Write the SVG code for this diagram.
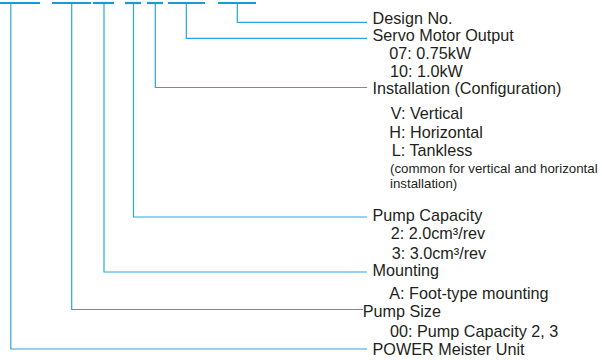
<svg xmlns="http://www.w3.org/2000/svg" width="602" height="360" viewBox="0 0 602 360">
<style>
.bar{stroke:#1d9ad6;stroke-width:2.2;fill:none}
.ln{stroke:#2aa6df;stroke-width:1.2;fill:none}
text{font-family:"Liberation Sans",Arial,sans-serif;font-size:16.2px;fill:#231f20}
.sm{font-size:13.3px}
</style>
<rect width="602" height="360" fill="#fff"/>
<g id="connectors">
<line class="bar" x1="0" y1="3" x2="40" y2="3"/>
<line class="bar" x1="52" y1="3" x2="91" y2="3"/>
<line class="bar" x1="93" y1="3" x2="114" y2="3"/>
<line class="bar" x1="125" y1="3" x2="141" y2="3"/>
<line class="bar" x1="147" y1="3" x2="163" y2="3"/>
<line class="bar" x1="168" y1="3" x2="205" y2="3"/>
<line class="bar" x1="218" y1="3" x2="256" y2="3"/>
<path class="ln" d="M237.3,4 V22.3 H367"/>
<path class="ln" d="M186.3,4 V38.3 H367"/>
<path class="ln" d="M155.3,4 V87.5 H367"/>
<path class="ln" d="M133.5,4 V217 H367"/>
<path class="ln" d="M104,4 V272 H367"/>
<path class="ln" d="M71.7,4 V309.5 H363"/>
<path class="ln" d="M10.8,4 V349 H367"/>
</g>
<g id="design-no"><text x="372.5" y="24">Design No.</text></g>
<g id="servo-motor-output">
<text x="372.5" y="41.3">Servo Motor Output</text>
<text x="389.3" y="59">07: 0.75kW</text>
<text x="390" y="76.6">10: 1.0kW</text>
</g>
<g id="installation">
<text x="372.5" y="94.2">Installation (Configuration)</text>
<text x="390.7" y="119.3">V: Vertical</text>
<text x="389.3" y="137.6">H: Horizontal</text>
<text x="391.7" y="155.6">L: Tankless</text>
<text class="sm" x="390" y="172.5">(common for vertical and horizontal</text>
<text class="sm" x="390" y="188.3">installation)</text>
</g>
<g id="pump-capacity">
<text x="372.5" y="220.6">Pump Capacity</text>
<text x="390.7" y="239">2: 2.0cm³/rev</text>
<text x="391.7" y="259">3: 3.0cm³/rev</text>
</g>
<g id="mounting">
<text x="372.5" y="276">Mounting</text>
<text x="389.3" y="299">A: Foot-type mounting</text>
</g>
<g id="pump-size">
<text x="362.7" y="317.3">Pump Size</text>
<text x="390" y="336.7">00: Pump Capacity 2, 3</text>
</g>
<g id="power-meister-unit"><text x="372.5" y="355">POWER Meister Unit</text></g>
</svg>
